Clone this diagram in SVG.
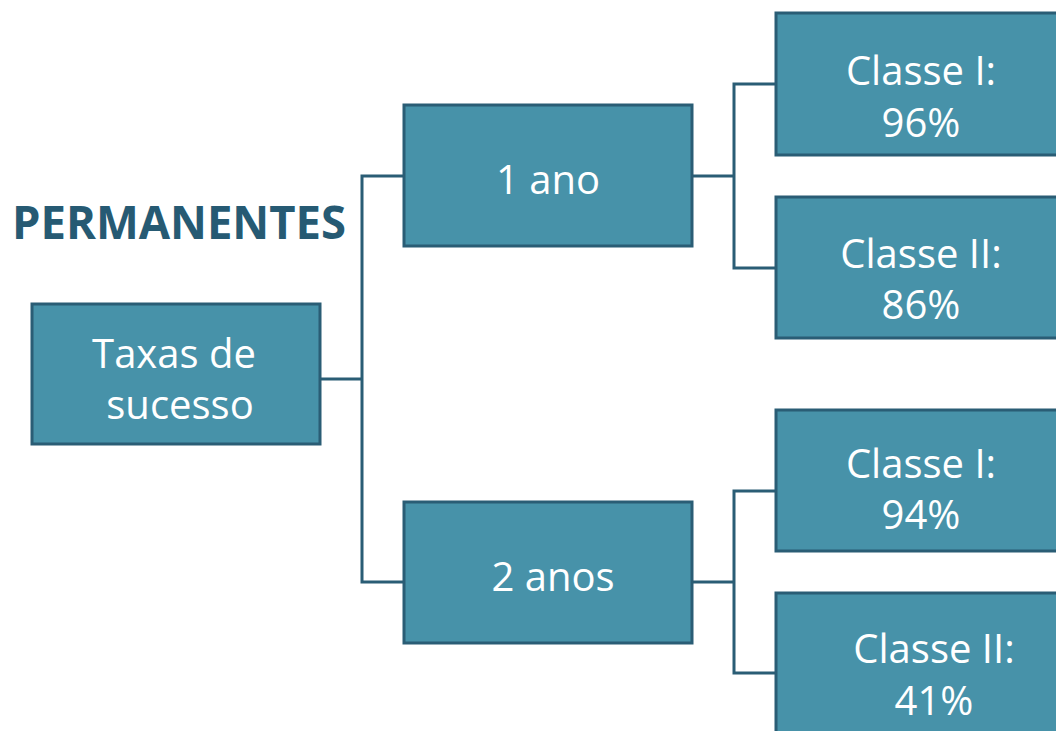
<svg xmlns="http://www.w3.org/2000/svg" width="1056" height="731" viewBox="0 0 1056 731">
<style>
.box{fill:#4792a9;stroke:#2a5d75;stroke-width:3}
.t{font-family:"Open Sans","Noto Sans",sans-serif;font-size:40px;fill:#ffffff;text-anchor:middle}
.c{fill:none;stroke:#2a5d75;stroke-width:3}
.title{font-family:"Open Sans","Noto Sans",sans-serif;font-size:46px;font-weight:bold;fill:#265a73}
</style>
<rect width="1056" height="731" fill="#ffffff"/>
<g id="connectors">
<polyline class="c" points="320,379 362,379"/>
<polyline class="c" points="404,176 362,176 362,582 404,582"/>
<polyline class="c" points="692,176 734,176"/>
<polyline class="c" points="776,84 734,84 734,268 776,268"/>
<polyline class="c" points="692,582 734,582"/>
<polyline class="c" points="776,491 734,491 734,673 776,673"/>
</g>
<text class="title" x="12" y="239" textLength="334" lengthAdjust="spacingAndGlyphs">PERMANENTES</text>
<g id="root"><rect class="box" x="32" y="304" width="288" height="140"/>
<text class="t" x="174" y="368">Taxas de</text><text class="t" x="180" y="419">sucesso</text></g>
<g id="ano1"><rect class="box" x="404" y="105" width="288" height="141"/>
<text class="t" x="548" y="194">1 ano</text></g>
<g id="ano2"><rect class="box" x="404" y="502" width="288" height="141"/>
<text class="t" x="553" y="591">2 anos</text></g>
<g id="c1a"><rect class="box" x="776" y="13" width="300" height="142"/>
<text class="t" x="921" y="85">Classe I:</text><text class="t" x="921" y="137">96%</text></g>
<g id="c2a"><rect class="box" x="776" y="197" width="300" height="141"/>
<text class="t" x="921" y="268">Classe II:</text><text class="t" x="921" y="319">86%</text></g>
<g id="c1b"><rect class="box" x="776" y="410" width="300" height="141"/>
<text class="t" x="921" y="478">Classe I:</text><text class="t" x="921" y="529">94%</text></g>
<g id="c2b"><rect class="box" x="776" y="593" width="300" height="160"/>
<text class="t" x="934" y="663">Classe II:</text><text class="t" x="934" y="715">41%</text></g>
</svg>
